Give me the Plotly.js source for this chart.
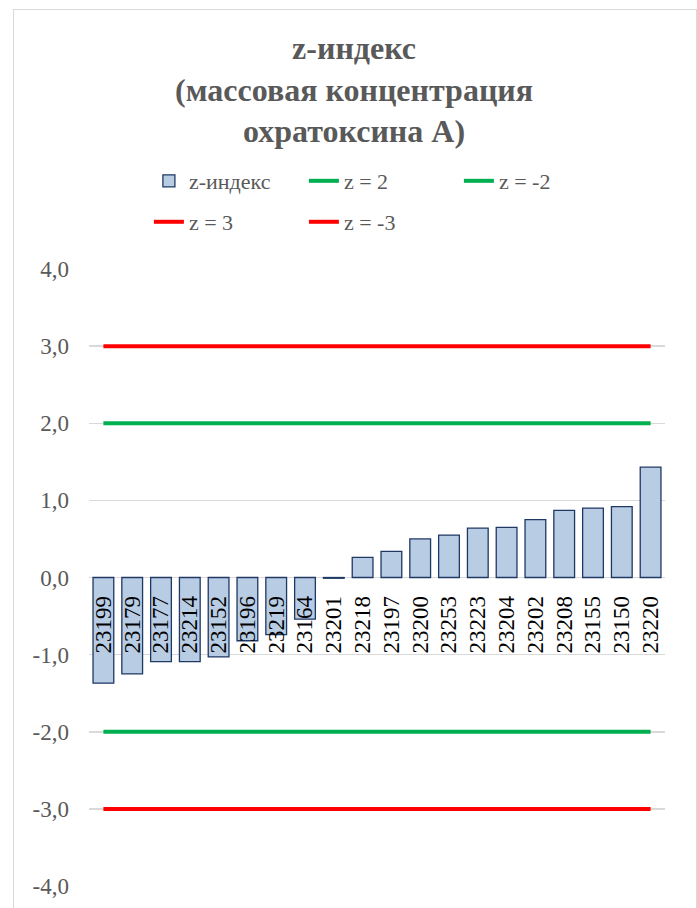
<!DOCTYPE html>
<html>
<head>
<meta charset="utf-8">
<script src="https://cdn.plot.ly/plotly-3.0.1.min.js"></script>
<style>
  html, body { margin: 0; padding: 0; background: #fff; }
  #chart { width: 697px; height: 908px; position: absolute; left: 0; top: 0; }
  #frame { position: absolute; left: 13px; top: 9px; width: 682px; height: 905px; border: 1px solid #d9d9d9; pointer-events: none; }
</style>
</head>
<body>
<div id="chart"></div>
<div id="frame"></div>
<script>
const categories = ["23199","23179","23177","23214","23152","23196","23219","23164","23201","23218",
                    "23197","23200","23253","23223","23204","23202","23208","23155","23150","23220"];
const zValues = [-1.37,-1.25,-1.09,-1.09,-1.03,-0.82,-0.74,-0.54,-0.01,0.26,
                 0.34,0.50,0.55,0.64,0.65,0.75,0.87,0.90,0.92,1.43];
const thresholdNames = ["z = 2","z = -2","z = 3","z = -3"];
const thresholdValues = [2,-2,3,-3];
const thresholdColors = ["#00b050","#00b050","#ff0000","#ff0000"];
const thresholdLegends = ["legend","legend","legend2","legend2"];
const yTicks = [-4,-3,-2,-1,0,1,2,3,4];
const yTickLabels = ["-4,0","-3,0","-2,0","-1,0","0,0","1,0","2,0","3,0","4,0"];

const serif = "Times New Roman, Liberation Serif, Tinos, DejaVu Serif, serif";
const txt = "#595959";

const traces = [{
  type: "bar",
  name: "z-индекс",
  x: categories,
  y: zValues,
  marker: { color: "#b8cce4", line: { color: "#1f3864", width: 1.3 } },
  legend: "legend",
  hoverinfo: "x+y"
}];
thresholdValues.forEach((t, i) => {
  traces.push({
    type: "scatter",
    mode: "lines",
    name: thresholdNames[i],
    x: categories,
    y: categories.map(() => t),
    line: { color: thresholdColors[i], width: 4 },
    legend: thresholdLegends[i]
  });
});

const layout = {
  width: 697,
  height: 908,
  margin: { l: 89, r: 32, t: 269, b: 22 },
  paper_bgcolor: "#ffffff",
  plot_bgcolor: "#ffffff",
  separators: ", ",
  font: { family: serif, color: txt, size: 22 },
  title: {
    text: "z-индекс<br>(массовая концентрация<br>охратоксина А)",
    font: { family: serif, size: 32, color: txt, weight: "bold" },
    x: 0.508, xanchor: "center",
    y: 0.935, yanchor: "middle",
    xref: "container", yref: "container"
  },
  bargap: 0.28,
  showlegend: true,
  legend: {
    orientation: "h",
    x: 0.104, xanchor: "left",
    y: 1.1426, yanchor: "middle",
    entrywidth: 110, entrywidthmode: "pixels",
    font: { family: serif, size: 22, color: txt },
    bgcolor: "rgba(0,0,0,0)"
  },
  legend2: {
    orientation: "h",
    x: 0.104, xanchor: "left",
    y: 1.0762, yanchor: "middle",
    entrywidth: 110, entrywidthmode: "pixels",
    font: { family: serif, size: 22, color: txt },
    bgcolor: "rgba(0,0,0,0)"
  },
  xaxis: {
    type: "category",
    anchor: "free",
    position: 0.5,
    showgrid: false,
    showline: false,
    zeroline: false,
    ticks: "",
    tickmode: "array",
    tickvals: categories,
    ticktext: categories,
    tickangle: -90,
    tickfont: { family: serif, size: 23, color: "#000000" },
    ticklabelstandoff: 13,
    range: [-0.5, categories.length - 0.5]
  },
  yaxis: {
    range: [-4, 4],
    tickvals: yTicks,
    ticktext: yTickLabels,
    showgrid: true,
    gridcolor: "#d9d9d9",
    gridwidth: 1.5,
    zeroline: false,
    showline: false,
    ticks: "",
    ticklabelstandoff: 19,
    tickfont: { family: serif, size: 23, color: txt }
  }
};

Plotly.newPlot("chart", traces, layout, { displayModeBar: false, staticPlot: true });
</script>
</body>
</html>
